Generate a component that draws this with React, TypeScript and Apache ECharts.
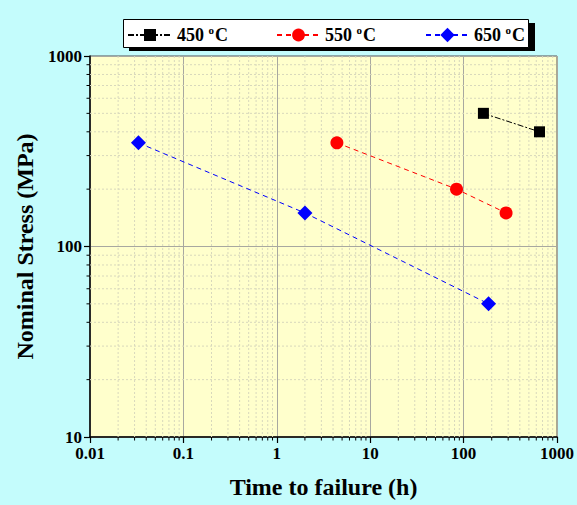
import React, { useEffect, useRef } from 'react';
import * as echarts from 'echarts';

const time450 = [163, 650];
const stress450 = [500, 400];
const time550 = [4.4, 84, 285];
const stress550 = [350, 200, 150];
const time650 = [0.033, 2.0, 185];
const stress650 = [350, 150, 50];

const names = ['450 °C', '550 °C', '650 °C'];
const legendLabels = ['450 {s|o}C', '550 {s|o}C', '650 {s|o}C'];

const xDecades = [0.01, 0.1, 1, 10, 100];
const yDecades = [10, 100];
const minorSteps = [2, 3, 4, 5, 6, 7, 8, 9];

const FONT = '"Liberation Serif", "Times New Roman", serif';

function pairs(xs: number[], ys: number[]) {
  return xs.map((x, i) => [x, ys[i]]);
}

function minorValues(decades: number[]) {
  const out: number[] = [];
  decades.forEach((d) => minorSteps.forEach((m) => out.push(+(d * m).toPrecision(6))));
  return out;
}

export default function App() {
  const ref = useRef<HTMLDivElement>(null);
  useEffect(() => {
    document.body.style.margin = '0';
    const chart = echarts.init(ref.current!, undefined, { renderer: 'svg' });
    const axisCommon = {
      type: 'log' as const,
      logBase: 10,
      axisLine: { lineStyle: { color: '#000', width: 1.5 } },
      axisTick: { show: true, inside: false, length: 6, lineStyle: { color: '#000', width: 1.2 } },
      minorTick: { show: false },
      axisLabel: {
        color: '#000', fontWeight: 'bold' as const, fontSize: 17, fontFamily: FONT, margin: 8,
        formatter: (v: number) => String(v),
      },
      splitLine: { show: true, lineStyle: { color: '#a8a8a0', width: 1 } },
      minorSplitLine: { show: false },
      nameLocation: 'middle' as const,
      nameTextStyle: { color: '#000', fontWeight: 'bold' as const, fontSize: 24, fontFamily: FONT },
    };
    const legendBase = (i: number, left: number, itemWidth: number, itemHeight: number) => ({
      data: [names[i]],
      left,
      top: 'auto',
      bottom: 505 - 44,
      padding: 0,
      itemWidth,
      itemHeight,
      z: 10,
      formatter: () => legendLabels[i],
      textStyle: {
        color: '#000',
        fontWeight: 'bold' as const,
        fontSize: 18,
        fontFamily: FONT,
        rich: {
          s: { fontSize: 11, fontWeight: 'bold' as const, fontFamily: FONT, color: '#000', padding: [0, 1, 11, 0] },
        },
      },
    });
    const xMinor = minorValues(xDecades);
    const yMinor = minorValues(yDecades);
    const gridStroke = '#d8d8bc';
    chart.setOption({
      animation: false,
      backgroundColor: '#c4fcfc',
      textStyle: { fontFamily: FONT },
      graphic: [
        { type: 'rect', z: 1, shape: { x: 129, y: 23, width: 406, height: 28 }, style: { fill: '#000' } },
        { type: 'rect', z: 2, shape: { x: 123.5, y: 19.5, width: 405, height: 28 }, style: { fill: '#fff', stroke: '#000', lineWidth: 1 } },
      ],
      legend: [legendBase(0, 127, 44, 15), legendBase(1, 276, 43, 16), legendBase(2, 425, 43, 18)],
      grid: {
        left: 90, right: 18, top: 56, bottom: 68,
        show: true, backgroundColor: '#ffffcc', borderColor: '#555', borderWidth: 1,
      },
      xAxis: { ...axisCommon, min: 0.01, max: 1000, name: 'Time to failure (h)', nameGap: 38 },
      yAxis: { ...axisCommon, min: 10, max: 1000, name: 'Nominal Stress (MPa)', nameGap: 47 },
      series: [
        {
          name: 'xminor', type: 'custom', z: 1, silent: true,
          data: xMinor.map((v) => [v, 10]),
          renderItem: (params: any, api: any) => {
            const v = api.value(0);
            const top = api.coord([v, 1000]);
            const bot = api.coord([v, 10]);
            return {
              type: 'group',
              children: [
                { type: 'line', shape: { x1: bot[0], y1: top[1], x2: bot[0], y2: bot[1] }, style: { stroke: gridStroke, lineWidth: 1, lineDash: [2, 2] } },
                { type: 'line', shape: { x1: bot[0], y1: bot[1], x2: bot[0], y2: bot[1] + 3.5 }, style: { stroke: '#000', lineWidth: 1 } },
              ],
            };
          },
        },
        {
          name: 'yminor', type: 'custom', z: 1, silent: true,
          data: yMinor.map((v) => [0.01, v]),
          renderItem: (params: any, api: any) => {
            const v = api.value(1);
            const l = api.coord([0.01, v]);
            const r = api.coord([1000, v]);
            return {
              type: 'group',
              children: [
                { type: 'line', shape: { x1: l[0], y1: l[1], x2: r[0], y2: l[1] }, style: { stroke: gridStroke, lineWidth: 1, lineDash: [2, 2] } },
                { type: 'line', shape: { x1: l[0] - 3.5, y1: l[1], x2: l[0], y2: l[1] }, style: { stroke: '#000', lineWidth: 1 } },
              ],
            };
          },
        },
        {
          name: names[0], type: 'line', data: pairs(time450, stress450), z: 3,
          symbol: 'rect', symbolSize: 11,
          itemStyle: { color: '#000' },
          lineStyle: { color: '#000', width: 1, type: [6, 2, 2, 2] },
        },
        {
          name: names[1], type: 'line', data: pairs(time550, stress550), z: 3,
          symbol: 'circle', symbolSize: 13,
          itemStyle: { color: '#ff0000' },
          lineStyle: { color: '#ff0000', width: 1, type: [5, 4] },
        },
        {
          name: names[2], type: 'line', data: pairs(time650, stress650), z: 3,
          symbol: 'diamond', symbolSize: 15,
          itemStyle: { color: '#0000ff' },
          lineStyle: { color: '#0000ff', width: 1, type: [5, 4] },
        },
      ],
    });
    return () => chart.dispose();
  }, []);
  return <div ref={ref} style={{ width: 577, height: 505 }} />;
}
